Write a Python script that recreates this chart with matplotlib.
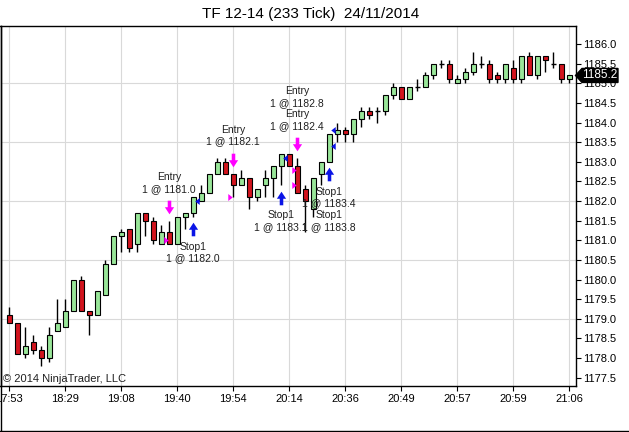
import numpy as np
import matplotlib
matplotlib.use('Agg')
import matplotlib.pyplot as plt
from matplotlib.path import Path
from matplotlib.lines import Line2D
from matplotlib.patches import Polygon
from matplotlib.transforms import ScaledTranslation


# 233 tick bars, TF 12-14
opens = [1179.1, 1178.9, 1178.1, 1178.4, 1178.2, 1178.0, 1178.7, 1178.8, 1179.2, 1180.0,
         1179.2, 1179.1, 1179.6, 1180.4, 1181.1, 1181.3, 1180.9, 1181.7, 1181.5, 1180.9,
         1181.2, 1180.9, 1181.6, 1181.7, 1182.0, 1182.2, 1182.7, 1183.0, 1182.7, 1182.4,
         1182.6, 1182.1, 1182.4, 1182.6, 1182.9, 1183.2, 1182.9, 1182.3, 1181.8, 1182.7,
         1183.0, 1183.7, 1183.8, 1183.7, 1184.1, 1184.3, 1184.3, 1184.3, 1184.7, 1184.9,
         1184.6, 1184.9, 1184.9, 1185.2, 1185.5, 1185.5, 1185.0, 1185.1, 1185.3, 1185.5,
         1185.5, 1185.2, 1185.1, 1185.4, 1185.1, 1185.7, 1185.2, 1185.7, 1185.5, 1185.5,
         1185.1]
highs = [1179.3, 1178.9, 1178.8, 1178.6, 1178.3, 1178.8, 1179.5, 1179.5, 1180.0, 1180.1,
         1179.2, 1179.7, 1180.5, 1181.1, 1181.3, 1181.3, 1181.7, 1181.7, 1181.6, 1181.4,
         1181.5, 1181.6, 1181.7, 1182.1, 1182.4, 1182.7, 1183.1, 1183.1, 1182.7, 1182.8,
         1182.6, 1182.3, 1182.8, 1182.9, 1183.2, 1183.2, 1183.1, 1182.4, 1182.6, 1183.0,
         1183.7, 1184.0, 1183.9, 1184.1, 1184.4, 1184.4, 1184.4, 1184.7, 1185.0, 1184.9,
         1184.9, 1185.1, 1185.3, 1185.5, 1185.6, 1185.6, 1185.2, 1185.4, 1185.8, 1185.7,
         1185.6, 1185.3, 1185.5, 1185.6, 1185.7, 1185.8, 1185.7, 1185.7, 1185.8, 1185.5,
         1185.2]
lows = [1178.9, 1178.1, 1178.0, 1178.1, 1177.8, 1177.9, 1178.7, 1178.8, 1179.2, 1179.2,
        1178.6, 1179.1, 1179.6, 1180.4, 1180.7, 1180.7, 1180.7, 1181.1, 1180.9, 1180.9,
        1180.9, 1180.9, 1181.3, 1181.6, 1182.0, 1182.2, 1182.7, 1182.7, 1182.1, 1182.4,
        1181.8, 1182.0, 1182.1, 1182.1, 1182.4, 1182.9, 1182.2, 1181.2, 1181.6, 1182.4,
        1183.0, 1183.5, 1183.5, 1183.5, 1183.9, 1184.1, 1184.0, 1184.2, 1184.6, 1184.6,
        1184.6, 1184.8, 1184.9, 1185.1, 1185.4, 1185.0, 1185.0, 1185.0, 1185.2, 1185.4,
        1185.0, 1185.0, 1185.0, 1185.0, 1185.0, 1185.2, 1185.1, 1185.3, 1185.4, 1185.0,
        1185.0]
closes = [1178.9, 1178.1, 1178.3, 1178.2, 1178.0, 1178.6, 1178.9, 1179.2, 1180.0, 1179.2,
          1179.1, 1179.7, 1180.4, 1181.1, 1181.2, 1180.8, 1181.7, 1181.5, 1181.0, 1181.2,
          1180.9, 1181.6, 1181.7, 1182.1, 1182.2, 1182.7, 1183.0, 1182.7, 1182.4, 1182.6,
          1182.1, 1182.3, 1182.6, 1182.9, 1183.2, 1182.9, 1182.2, 1182.0, 1182.6, 1183.0,
          1183.7, 1183.8, 1183.7, 1184.1, 1184.3, 1184.2, 1184.3, 1184.7, 1184.9, 1184.6,
          1184.9, 1184.9, 1185.2, 1185.5, 1185.5, 1185.1, 1185.1, 1185.3, 1185.5, 1185.5,
          1185.1, 1185.1, 1185.5, 1185.1, 1185.7, 1185.2, 1185.7, 1185.6, 1185.5, 1185.1,
          1185.2]

time_labels = ['17:53', '18:29', '19:08', '19:40', '19:54', '20:14',
               '20:36', '20:49', '20:57', '20:59', '21:06']
label_every = 7

price_ticks = np.arange(1177.5, 1186.01, 0.5)
grid_prices = [1179.0, 1180.5, 1182.0, 1183.5, 1185.0]

entry_bars = [20, 28, 36, 36]
entry_prices = [1181.0, 1182.1, 1182.8, 1182.4]
stop_bars = [23, 34, 40, 40]
stop_prices = [1182.0, 1183.1, 1183.4, 1183.8]

title = 'TF 12-14 (233 Tick)  24/11/2014'

plt.rcParams['font.family'] = ['Liberation Sans', 'DejaVu Sans']

W, H = 629, 432
fig = plt.figure(figsize=(W / 100, H / 100), dpi=100)
ax = fig.add_axes([0.5 / W, 46 / H, 575.5 / W, 360 / H])

n = len(opens)
x = np.arange(n)
o = np.array(opens)
c = np.array(closes)

ymin, ymax = 1177.29, 1186.46
ax.set_xlim(-1.07, 70.87)
ax.set_ylim(ymin, ymax)

# grid
for i in range(0, n, label_every):
    ax.axvline(i, color='#d9d9d9', lw=0.8, zorder=0)
for p in grid_prices:
    ax.axhline(p, color='#d9d9d9', lw=0.8, zorder=0)

# candles
ax.vlines(x, lows, highs, color='black', lw=1, zorder=2)
body_w = 0.62
up = c > o
down = c < o
doji = c == o
ax.bar(x[up], (c - o)[up], bottom=o[up], width=body_w, color='#99e699',
       edgecolor='black', linewidth=0.8, zorder=3)
ax.bar(x[down], (o - c)[down], bottom=c[down], width=body_w, color='#d2141e',
       edgecolor='black', linewidth=0.8, zorder=3)
ax.hlines(o[doji], x[doji] - body_w / 2, x[doji] + body_w / 2, color='black', lw=1, zorder=3)

# trade markers
arrow_down = Path([(-0.13, 0.5), (0.13, 0.5), (0.13, 0.02), (0.34, 0.02), (0, -0.5),
                   (-0.34, 0.02), (-0.13, 0.02), (-0.13, 0.5)])
arrow_up = Path([(vx, -vy) for vx, vy in arrow_down.vertices])
tri_right = Path([(-0.32, 0.5), (0.32, 0.0), (-0.32, -0.5), (-0.32, 0.5)])
tri_left = Path([(0.32, 0.5), (-0.32, 0.0), (0.32, -0.5), (0.32, 0.5)])


def shifted(dx, dy):
    # offset in pixels from a data point
    return ax.transData + ScaledTranslation(dx / 100, dy / 100, fig.dpi_scale_trans)


def group(bars, prices):
    out = {}
    for b, p in zip(bars, prices):
        out.setdefault(b, []).append(p)
    return out


magenta = '#ff00ff'
blue = '#0a14e6'

for b, ps in group(entry_bars, entry_prices).items():
    ax.plot([b], [highs[b]], marker=arrow_down, markersize=9.8, color=magenta,
            markeredgewidth=0, ls='none', zorder=5, transform=shifted(0, 14))
    txt = '\n'.join('Entry\n1 @ %.1f' % p for p in ps)
    ax.annotate(txt, xy=(b, highs[b]), xytext=(0, 27), textcoords='offset pixels',
                ha='center', va='bottom', fontsize=7.5, color='#202020', zorder=6)
    for p in ps:
        ax.plot([b], [p], marker=tri_right, markersize=5, color=magenta,
                markeredgewidth=0, ls='none', zorder=5, transform=shifted(-3, 0))

for b, ps in group(stop_bars, stop_prices).items():
    ax.plot([b], [lows[b]], marker=arrow_up, markersize=9.8, color=blue,
            markeredgewidth=0, ls='none', zorder=5, transform=shifted(0, -12.5))
    txt = '\n'.join('Stop1\n1 @ %.1f' % p for p in ps)
    ax.annotate(txt, xy=(b, lows[b]), xytext=(0, -25), textcoords='offset pixels',
                ha='center', va='top', fontsize=7.5, color='#202020', zorder=6)
    for p in ps:
        ax.plot([b], [p], marker=tri_left, markersize=5, color=blue,
                markeredgewidth=0, ls='none', zorder=5, transform=shifted(4, 0))

# axes
ax.set_xticks(x[::label_every])
ax.set_xticklabels(time_labels)
ax.yaxis.tick_right()
ax.set_yticks(price_ticks)
ax.set_yticklabels(['%.1f' % p for p in price_ticks])
ax.tick_params(axis='both', direction='out', length=3.6, width=0.8, labelsize=8,
               colors='black')
ax.tick_params(axis='x', pad=2.5)
ax.tick_params(axis='y', pad=1.5)
for s in ax.spines.values():
    s.set_linewidth(1.0)
    s.set_color('black')

ax.text(0.004, 0.006, '\u00a9 2014 NinjaTrader, LLC', transform=ax.transAxes,
        ha='left', va='bottom', fontsize=8, color='#202020')

# last price tag
last = closes[-1]
hh = 7 / (360 / (ymax - ymin))
ax_w = 575.5
tip, notch, right = 575.0 / ax_w, 581.5 / ax_w, 617.5 / ax_w
tag = Polygon([(tip, last), (notch, last + hh), (right, last + hh), (right, last - hh),
               (notch, last - hh)], closed=True, facecolor='black', edgecolor='black',
              transform=ax.get_yaxis_transform(), clip_on=False, zorder=10)
ax.add_patch(tag)
ax.text((notch + right) / 2, last, '%.1f' % last, color='white', fontsize=8.5,
        ha='center', va='center', transform=ax.get_yaxis_transform(), clip_on=False, zorder=11)

fig.text(311 / W, 1 - 14 / H, title, ha='center', va='center', fontsize=11)

# window border
fig.add_artist(Line2D([0, 1], [1.5 / H, 1.5 / H], transform=fig.transFigure, color='black', lw=1))
fig.add_artist(Line2D([0.5 / W, 0.5 / W], [1.5 / H, 406 / H], transform=fig.transFigure,
                      color='black', lw=1))

fig.savefig('out.png', dpi=100)
